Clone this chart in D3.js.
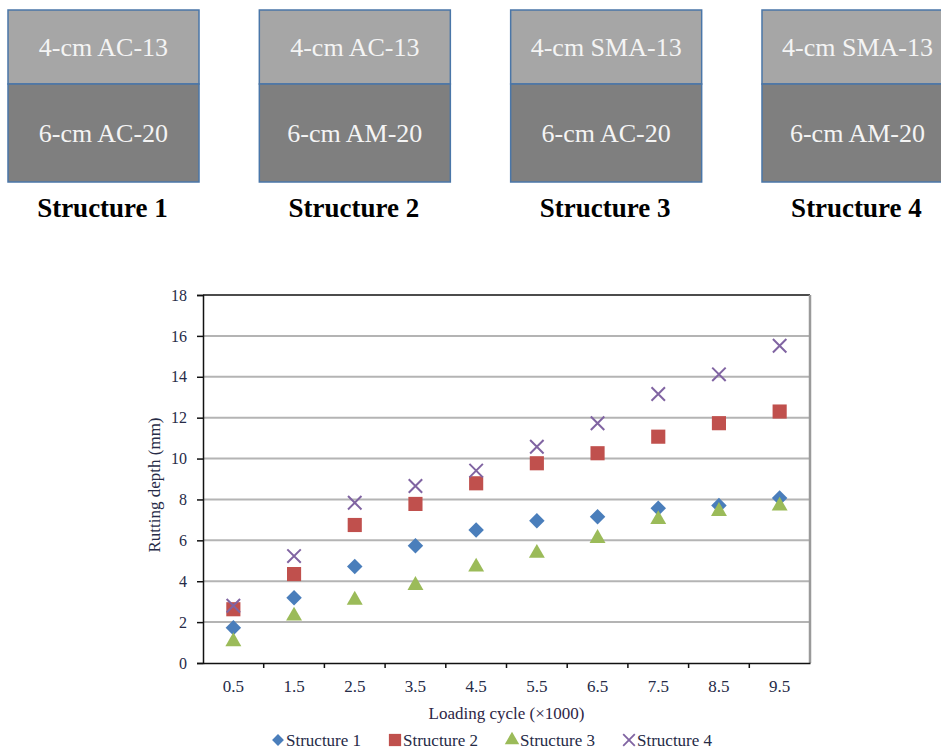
<!DOCTYPE html>
<meta charset="utf-8">
<style>
    html,
    body {
        margin: 0;
        padding: 0;
        background: #fff;
    }

    svg {
        display: block;
    }
</style>

<body>
    <svg width="941" height="749"></svg>
    <script src="https://cdn.jsdelivr.net/npm/d3@7"></script>
    <script>
        // layer structures shown above the chart
        const structures = ['Structure 1', 'Structure 2', 'Structure 3', 'Structure 4'];
        const topLayers = ['4-cm AC-13', '4-cm AC-13', '4-cm SMA-13', '4-cm SMA-13'];
        const bottomLayers = ['6-cm AC-20', '6-cm AM-20', '6-cm AC-20', '6-cm AM-20'];

        // chart data
        const cycles = ['0.5', '1.5', '2.5', '3.5', '4.5', '5.5', '6.5', '7.5', '8.5', '9.5'];
        const structure1 = [1.73, 3.19, 4.72, 5.74, 6.5, 6.96, 7.15, 7.57, 7.7, 8.07];
        const structure2 = [2.63, 4.35, 6.75, 7.78, 8.79, 9.77, 10.26, 11.07, 11.73, 12.3];
        const structure3 = [1.05, 2.3, 3.08, 3.8, 4.7, 5.37, 6.1, 7.02, 7.42, 7.68];
        const structure4 = [2.8, 5.23, 7.84, 8.66, 9.41, 10.58, 11.73, 13.16, 14.12, 15.52];
        const yTicks = [0, 2, 4, 6, 8, 10, 12, 14, 16, 18];

        const serif = '"Liberation Serif", "Times New Roman", serif';
        const textColor = '#262b47';

        const svg = d3.select('svg');

        // ---- structure boxes ----
        const boxX = d3.scaleBand().domain(structures).range([8, 953]).paddingInner(0.24).paddingOuter(0);
        const boxTop = 10, boxMid = 84, boxBottom = 182;

        const boxes = svg.append('g').selectAll('g')
            .data(structures)
            .join('g')
            .attr('transform', d => `translate(${boxX(d)},0)`);

        boxes.append('rect')
            .attr('x', 0).attr('y', boxTop)
            .attr('width', boxX.bandwidth()).attr('height', boxMid - boxTop)
            .attr('fill', '#a6a6a6').attr('stroke', '#4a76a8').attr('stroke-width', 1.5);
        boxes.append('rect')
            .attr('x', 0).attr('y', boxMid)
            .attr('width', boxX.bandwidth()).attr('height', boxBottom - boxMid)
            .attr('fill', '#7f7f7f').attr('stroke', '#4a76a8').attr('stroke-width', 1.5);

        boxes.append('text')
            .attr('x', boxX.bandwidth() / 2).attr('y', (boxTop + boxMid) / 2 + 9)
            .attr('text-anchor', 'middle')
            .attr('font-family', serif).attr('font-size', 26).attr('fill', '#f4f4f4')
            .text((d, i) => topLayers[i]);
        boxes.append('text')
            .attr('x', boxX.bandwidth() / 2).attr('y', (boxMid + boxBottom) / 2 + 9)
            .attr('text-anchor', 'middle')
            .attr('font-family', serif).attr('font-size', 26).attr('fill', '#f4f4f4')
            .text((d, i) => bottomLayers[i]);
        boxes.append('text')
            .attr('x', boxX.bandwidth() / 2 - 1).attr('y', 217)
            .attr('text-anchor', 'middle')
            .attr('font-family', serif).attr('font-size', 27).attr('font-weight', 'bold').attr('fill', '#000')
            .text(d => d);

        // ---- scatter chart ----
        const plotLeft = 203, plotRight = 810, plotTop = 295, plotBottom = 663;
        const x = d3.scaleBand().domain(cycles).range([plotLeft, plotRight]);
        const y = d3.scaleLinear().domain([0, 18]).range([plotBottom, plotTop]);

        const chart = svg.append('g');

        // gridlines
        chart.append('g').selectAll('line')
            .data(yTicks.filter(v => v > 0 && v < 18))
            .join('line')
            .attr('x1', plotLeft).attr('x2', plotRight)
            .attr('y1', d => y(d)).attr('y2', d => y(d))
            .attr('stroke', '#b4b4b4').attr('stroke-width', 2);

        // frame: top black, right gray
        chart.append('line').attr('x1', plotLeft).attr('x2', plotRight).attr('y1', plotTop).attr('y2', plotTop)
            .attr('stroke', '#111').attr('stroke-width', 1.5);
        chart.append('line').attr('x1', plotRight).attr('x2', plotRight).attr('y1', plotTop).attr('y2', plotBottom)
            .attr('stroke', '#9a9a9a').attr('stroke-width', 2.5);

        // y axis
        const yAxis = chart.append('g')
            .attr('transform', `translate(${plotLeft},0)`)
            .call(d3.axisLeft(y).tickValues(yTicks).tickSize(6).tickPadding(10));
        yAxis.select('.domain').attr('stroke', '#111').attr('stroke-width', 1.5);
        yAxis.selectAll('.tick line').attr('stroke', '#111').attr('stroke-width', 1.5);
        yAxis.selectAll('.tick text')
            .attr('font-family', serif).attr('font-size', 16).attr('fill', textColor);

        // x axis: ticks sit on category boundaries
        const xAxis = chart.append('g')
            .attr('transform', `translate(0,${plotBottom})`)
            .call(d3.axisBottom(x).tickSize(0).tickPadding(17));
        xAxis.select('.domain').attr('stroke', '#111').attr('stroke-width', 1.5);
        xAxis.selectAll('.tick text')
            .attr('font-family', serif).attr('font-size', 17).attr('fill', textColor);
        xAxis.append('g').selectAll('line')
            .data(cycles.slice(1))
            .join('line')
            .attr('x1', d => x(d)).attr('x2', d => x(d))
            .attr('y1', 0).attr('y2', 5)
            .attr('stroke', '#111').attr('stroke-width', 1.5);

        // axis titles
        chart.append('text')
            .attr('x', (plotLeft + plotRight) / 2).attr('y', 719)
            .attr('text-anchor', 'middle')
            .attr('font-family', serif).attr('font-size', 17).attr('fill', '#2e2646')
            .text('Loading cycle (×1000)');
        chart.append('text')
            .attr('transform', `translate(160,${(plotTop + plotBottom) / 2 + 6}) rotate(-90)`)
            .attr('text-anchor', 'middle')
            .attr('font-family', serif).attr('font-size', 17).attr('fill', textColor)
            .text('Rutting depth (mm)');

        // markers
        const crossType = d3.symbolTimes || d3.symbolX;
        const series = [
            { name: 'Structure 1', values: structure1, type: d3.symbolSquare, size: 120, legendSize: 70, fill: '#4a7ebb', rotate: 45 },
            { name: 'Structure 2', values: structure2, type: d3.symbolSquare, size: 200, legendSize: 150, fill: '#c0504d', rotate: 0 },
            { name: 'Structure 3', values: structure3, type: d3.symbolTriangle, size: 110, legendSize: 90, fill: '#9bbb59', rotate: 0 },
            { name: 'Structure 4', values: structure4, type: crossType, size: 120, legendSize: 90, stroke: '#8064a2', rotate: 0 }
        ];

        const cx = d => x(d) + x.bandwidth() / 2;

        series.forEach(s => {
            chart.append('g').selectAll('path')
                .data(cycles)
                .join('path')
                .attr('d', d3.symbol().type(s.type).size(s.size)())
                .attr('transform', (d, i) => `translate(${cx(d)},${y(s.values[i])}) rotate(${s.rotate})`)
                .attr('fill', s.fill || 'none')
                .attr('stroke', s.stroke || 'none')
                .attr('stroke-width', s.stroke ? 2 : 0);
        });

        // legend
        const legendX = d3.scalePoint().domain(series.map(s => s.name)).range([278, 629]);
        const legend = chart.append('g').selectAll('g')
            .data(series)
            .join('g')
            .attr('transform', d => `translate(${legendX(d.name)},740)`);
        legend.append('path')
            .attr('d', d => d3.symbol().type(d.type).size(d.legendSize)())
            .attr('transform', d => `rotate(${d.rotate})`)
            .attr('fill', d => d.fill || 'none')
            .attr('stroke', d => d.stroke || 'none')
            .attr('stroke-width', d => d.stroke ? 1.8 : 0);
        legend.append('text')
            .attr('x', 8).attr('y', 6)
            .attr('font-family', serif).attr('font-size', 17).attr('fill', textColor)
            .text(d => d.name);
    </script>
</body>

</html>
